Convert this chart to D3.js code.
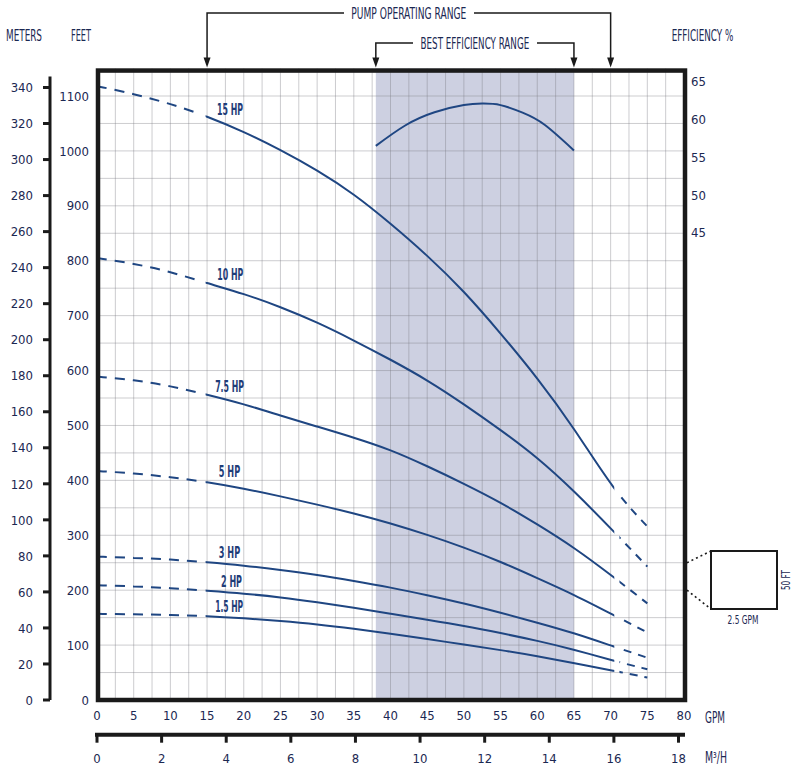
<!DOCTYPE html>
<html><head><meta charset="utf-8">
<script src="https://cdn.jsdelivr.net/npm/d3@7"></script>
<style>body{margin:0;background:#fff}svg{display:block}</style>
</head><body>
<svg id="c" width="800" height="777"></svg>
<script>
// ---------- DATA ----------
const gpmPoints = [0,5,10,15,20,25,30,35,40,45,50,55,60,65,70.5,75];
const head15 = [1118,1104,1086,1063,1035,1002,965,922,868,810,745,668,587,496,380,316];
const head10 = [805,795,780,759,740,716,688,655,620,583,539,492,442,381,306,243];
const head75 = [589,583,572,556,539,518,498,478,456,426,394,360,320,278,223,176];
const head5  = [417,413,406,397,385,371,356,340,322,301,278,252,222,192,154,123];
const head3  = [261,259,256,251,245,237,228,217,205,191,176,159,141,122,97,77];
const head2  = [209,207,204,199,194,187,178,168,157,146,135,122,108,92,71,56];
const head15hp = [157,156,155,153,149,144,138,130,121,111,101,91,80,67,53,41];
const curveNames = ["15 HP","10 HP","7.5 HP","5 HP","3 HP","2 HP","1.5 HP"];
const labelGpm  = [16.35,16.4,16.1,16.6,16.6,16.9,16.1];
const labelFeet = [1076,774,571,416,269,215,170];
const labelWidth = [26,26,29,21.4,21.4,21,28];

const effGpm = [38,42,46,50,52.5,55,58,61,65];
const effVal = [56.5,59.2,60.95,61.9,62.1,61.9,60.9,59.3,55.9];

const gpmTicks = [0,5,10,15,20,25,30,35,40,45,50,55,60,65,70,75,80];
const feetTicks = [0,100,200,300,400,500,600,700,800,900,1000,1100];
const meterTicks = d3.range(0,341,20);
const effTicks = [45,50,55,60,65];
const m3hTicks = [0,2,4,6,8,10,12,14,16,18];
const operatingRange = [15,70];
const bestRange = [38,65];
const dashedBelow = 15, dashedAbove = 70.5;

// ---------- SETUP ----------
const svg = d3.select("#c");
const F = "'Liberation Sans Narrow','DejaVu Sans Condensed','Arial Narrow',sans-serif";
const TXT = "#1b2852";
const LINE = "#1f4682";

const x = d3.scaleLinear([0,80],[97,684]);
const y = d3.scaleLinear([0,1100],[700,96]);
const yEff = d3.scaleLinear([45,65],[232.7,81.7]);
const GPM_PER_M3H = 4.402868;
const FT_PER_M = 3.28084;

function text(str, cx, cy, o={}){
  const fs = o.size || 13;
  const t = svg.append("text")
    .attr("x", cx).attr("y", cy + 0.36*fs)
    .attr("font-family", F).attr("font-size", fs)
    .attr("fill", o.fill || TXT)
    .attr("font-weight", o.bold ? "bold" : "normal")
    .attr("text-anchor", o.anchor || "middle")
    .text(str);
  if (o.len) t.attr("textLength", o.len).attr("lengthAdjust","spacingAndGlyphs");
  return t;
}

// shaded best efficiency region
svg.append("rect")
  .attr("x", x(bestRange[0])).attr("y", y(1150))
  .attr("width", x(bestRange[1]) - x(bestRange[0]))
  .attr("height", y(0) - y(1150))
  .attr("fill", "#cdd0e1");

// grid
const grid = svg.append("g").attr("stroke","#7a7a80").attr("stroke-opacity",0.38).attr("stroke-width",1);
d3.range(2.5,80,2.5).forEach(g=>{
  grid.append("line").attr("x1",x(g)).attr("x2",x(g)).attr("y1",y(1150)).attr("y2",y(0));
});
d3.range(50,1150,50).forEach(f=>{
  grid.append("line").attr("x1",x(0)).attr("x2",x(80)).attr("y1",y(f)).attr("y2",y(f));
});

// pump curves
const heads = [head15, head10, head75, head5, head3, head2, head15hp];
const lineGen = d3.line().x(d=>x(d[0])).y(d=>y(d[1])).curve(d3.curveBasis);
const defs = svg.append("defs");
const clipTop = y(1150), clipH = y(0)-y(1150)+20;
function clip(id, g0, g1){
  defs.append("clipPath").attr("id",id).append("rect")
    .attr("x", x(g0)).attr("y", clipTop).attr("width", x(g1)-x(g0)).attr("height", clipH);
}
clip("cl-dashA", 0, 13.8);
clip("cl-solid", 14.8, dashedAbove);
clip("cl-dashB", 71.2, 80);

heads.forEach((h,i)=>{
  const pts = gpmPoints.map((g,j)=>[g,h[j]]);
  const d = lineGen(pts);
  svg.append("path").attr("d",d).attr("fill","none").attr("stroke",LINE).attr("stroke-width",2)
    .attr("stroke-dasharray","10,8").attr("clip-path","url(#cl-dashA)");
  svg.append("path").attr("d",d).attr("fill","none").attr("stroke",LINE).attr("stroke-width",2)
    .attr("clip-path","url(#cl-solid)");
  svg.append("path").attr("d",d).attr("fill","none").attr("stroke",LINE).attr("stroke-width",2)
    .attr("stroke-dasharray","8,7").attr("stroke-dashoffset",3).attr("clip-path","url(#cl-dashB)");
  text(curveNames[i], x(labelGpm[i]), y(labelFeet[i]), {size:15, bold:true, anchor:"start", len:labelWidth[i], fill:"#1f3d78"});
});

// efficiency curve
svg.append("path")
  .attr("d", d3.line().x((d,i)=>x(effGpm[i])).y(d=>yEff(d)).curve(d3.curveNatural)(effVal))
  .attr("fill","none").attr("stroke",LINE).attr("stroke-width",2);

// frame
svg.append("rect").attr("x",x(0)+1).attr("y",y(1150)+2)
  .attr("width",x(80)-x(0)).attr("height",y(0)-y(1150)-2)
  .attr("fill","none").attr("stroke","#1a1a1a").attr("stroke-width",4.5);

// feet labels
feetTicks.forEach(f=> text(String(f), 89, y(f), {anchor:"end"}));
// GPM labels
gpmTicks.forEach(g=> text(String(g), x(g), 715));
text("GPM", 715, 718, {size:15, len:20});

// meters axis
const mx = 50;
svg.append("line").attr("x1",mx).attr("x2",mx).attr("y1",y(340*FT_PER_M)-11).attr("y2",y(0))
  .attr("stroke","#1a1a1a").attr("stroke-width",3);
meterTicks.forEach(m=>{
  svg.append("line").attr("x1",mx-7).attr("x2",mx).attr("y1",y(m*FT_PER_M)).attr("y2",y(m*FT_PER_M))
    .attr("stroke","#1a1a1a").attr("stroke-width",3);
  text(String(m), 33, y(m*FT_PER_M), {anchor:"end"});
});

// efficiency labels
effTicks.forEach(e=> text(String(e), 691, yEff(e), {anchor:"start"}));

// m3/h axis
const ay = 734.7;
svg.append("line").attr("x1",x(0)-2).attr("x2",x(80)+1).attr("y1",ay).attr("y2",ay)
  .attr("stroke","#1a1a1a").attr("stroke-width",4);
m3hTicks.forEach(m=>{
  const px = x(m*GPM_PER_M3H);
  svg.append("line").attr("x1",px).attr("x2",px).attr("y1",ay).attr("y2",ay+8)
    .attr("stroke","#1a1a1a").attr("stroke-width",3);
  text(String(m), px, 758);
});
text("M³/H", 716, 758, {size:15, len:22});

// headers
text("METERS", 24, 36, {size:15, len:36});
text("FEET", 81, 36, {size:15, len:20});
text("EFFICIENCY %", 702.5, 36, {size:15, len:61.6});

// range annotations
function rangeAnno(r, ly, label, tx0, tx1, len){
  const a = x(r[0]), b = x(r[1]);
  const g = svg.append("g").attr("stroke","#1a1a1a").attr("stroke-width",1.5).attr("fill","none");
  g.append("polyline").attr("points", `${a},${y(1150)-10} ${a},${ly} ${tx0},${ly}`);
  g.append("polyline").attr("points", `${tx1},${ly} ${b},${ly} ${b},${y(1150)-10}`);
  [a,b].forEach(p=>{
    svg.append("path").attr("d",`M${p-3.5},${y(1150)-11}L${p+3.5},${y(1150)-11}L${p},${y(1150)-1}Z`).attr("fill","#1a1a1a");
  });
  text(label, (a+b)/2, ly, {size:16, len:len});
}
rangeAnno(operatingRange, 13, "PUMP OPERATING RANGE", 344, 474, 115);
rangeAnno(bestRange, 43, "BEST EFFICIENCY RANGE", 413, 537, 108.6);

// scale legend box
const bx0 = 711, bx1 = 777, by0 = 551, by1 = 609;
svg.append("rect").attr("x",bx0).attr("y",by0).attr("width",bx1-bx0).attr("height",by1-by0)
  .attr("fill","none").attr("stroke","#1a1a1a").attr("stroke-width",2);
[[y(250),by0],[y(200),by1]].forEach(([a,b])=>{
  svg.append("line").attr("x1",x(80)+3).attr("y1",a).attr("x2",bx0).attr("y2",b)
    .attr("stroke","#1a1a1a").attr("stroke-width",1.6).attr("stroke-dasharray","2,3");
});
text("2.5 GPM", 743, 619, {size:13, len:31});
text("50 FT", 0, 0, {size:13, len:20}).attr("transform","translate(785,580) rotate(-90)");
</script>
</body></html>
